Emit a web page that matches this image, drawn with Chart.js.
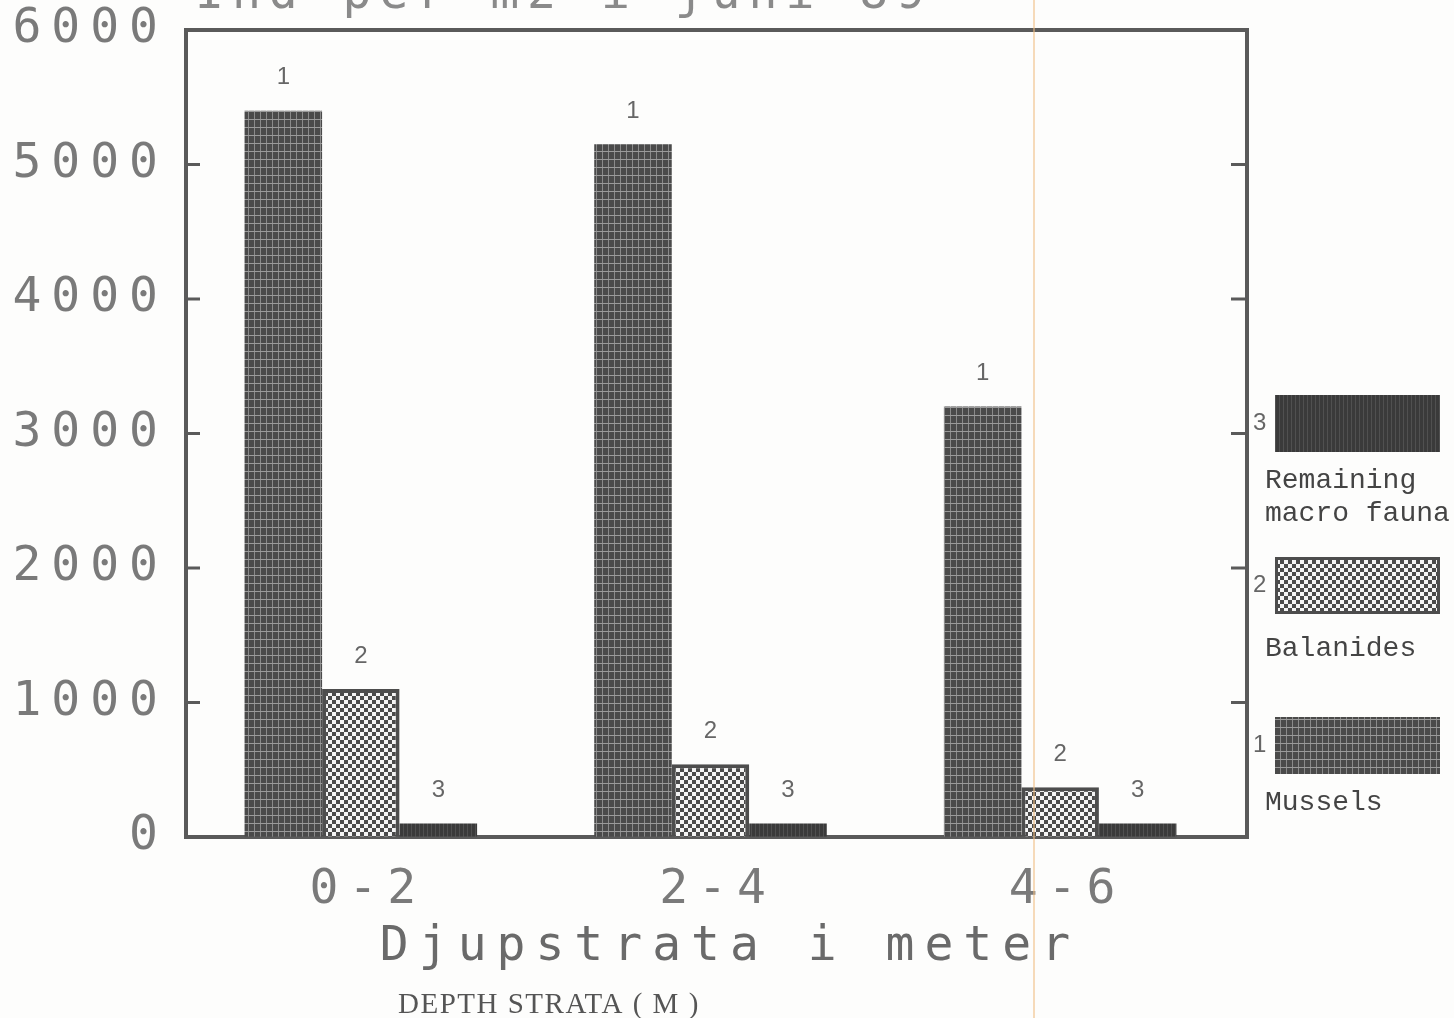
<!DOCTYPE html>
<html>
<head>
<meta charset="utf-8">
<title>Djupstrata i meter</title>
<script src="https://cdn.jsdelivr.net/npm/chart.js@4.4.1/dist/chart.umd.min.js"></script>
<style>
  html, body { margin: 0; padding: 0; background: #fdfdfc; }
  #wrap { width: 1454px; height: 1018px; }
</style>
</head>
<body>
<div id="wrap"><canvas id="chart" width="1454" height="1018"></canvas></div>
<script>
// Individuals per depth stratum

const depthStrata = ["0-2", "2-4", "4-6"];
const mussels = [5400, 5150, 3200];
const balanides = [1100, 540, 370];
const remaining = [100, 100, 100];
const seriesNames = ["Mussels", "Balanides", "Remaining macro fauna"];
const seriesNumbers = ["1", "2", "3"];
const yTicks = [0, 1000, 2000, 3000, 4000, 5000, 6000];

const BIG_FONT = "DejaVu Sans Mono";
const INK = "#5a5a5a";
const FRAME_GAP = 12; // printed frame runs a little past the last group

// dot matrix style fills
function makePattern(kind) {
  const c = document.createElement("canvas");
  const g = c.getContext("2d");
  if (kind === "grid") {
    c.width = 6; c.height = 8;
    g.fillStyle = "#4a4a4a";
    g.fillRect(0, 0, 6, 8);
    g.fillStyle = "#8a8a8a";
    g.fillRect(2, 0, 1, 8);
    g.fillStyle = "#9a9a9a";
    g.fillRect(0, 7, 6, 1);
  } else if (kind === "checker") {
    c.width = 8; c.height = 8;
    g.fillStyle = "#f4f4f4";
    g.fillRect(0, 0, 8, 8);
    g.fillStyle = "#4a4a4a";
    g.fillRect(0, 0, 4, 4);
    g.fillRect(4, 4, 4, 4);
  } else {
    c.width = 4; c.height = 4;
    g.fillStyle = "#3a3a3a";
    g.fillRect(0, 0, 4, 4);
    g.fillStyle = "#505050";
    g.fillRect(3, 0, 1, 4);
  }
  return g.createPattern(c, "repeat");
}

const fills = [makePattern("grid"), makePattern("checker"), makePattern("solid")];

const paperPlugin = {
  id: "paper",
  beforeDraw(chart) {
    const ctx = chart.ctx;
    ctx.save();
    ctx.fillStyle = "#fdfdfc";
    ctx.fillRect(0, 0, chart.width, chart.height);
    ctx.restore();
    // wide dot-matrix lettering for axes
    ctx.letterSpacing = "10px";
  },
  beforeDatasetsDraw(chart) {
    const ctx = chart.ctx;
    const a = chart.chartArea;
    const y = chart.scales.y;
    const fr = a.right + FRAME_GAP;
    ctx.letterSpacing = "0px";
    ctx.save();
    // top, right and rest of bottom frame lines
    ctx.strokeStyle = INK;
    ctx.lineWidth = 4;
    ctx.beginPath();
    ctx.moveTo(a.left, a.top);
    ctx.lineTo(fr, a.top);
    ctx.lineTo(fr, a.bottom);
    ctx.lineTo(a.right - 2, a.bottom);
    ctx.stroke();
    // inward tick marks on both sides
    ctx.lineWidth = 3;
    yTicks.slice(1, -1).forEach((v) => {
      const py = y.getPixelForValue(v);
      ctx.beginPath();
      ctx.moveTo(a.left, py);
      ctx.lineTo(a.left + 14, py);
      ctx.moveTo(fr, py);
      ctx.lineTo(fr - 16, py);
      ctx.stroke();
    });
    ctx.restore();
  },
  afterDatasetsDraw(chart) {
    const ctx = chart.ctx;
    ctx.save();
    ctx.letterSpacing = "0px";
    ctx.font = "24px 'Liberation Sans'";
    ctx.fillStyle = "#666";
    ctx.textAlign = "center";
    ctx.textBaseline = "bottom";
    chart.data.datasets.forEach((ds, i) => {
      const meta = chart.getDatasetMeta(i);
      meta.data.forEach((bar) => {
        ctx.fillText(seriesNumbers[i], bar.x, bar.y - 21);
      });
    });
    ctx.restore();
  },
  afterDraw(chart) {
    const ctx = chart.ctx;
    const fr = chart.chartArea.right + FRAME_GAP;
    ctx.save();
    ctx.letterSpacing = "0px";

    // legend on the right, top to bottom: 3, 2, 1
    const boxX = fr + 28;
    const boxW = 165;
    const boxH = 57;
    const entries = [
      { i: 2, top: 395, base: 488, lines: ["Remaining", "macro fauna"] },
      { i: 1, top: 557, base: 656, lines: ["Balanides"] },
      { i: 0, top: 717, base: 810, lines: ["Mussels"] }
    ];
    entries.forEach((e) => {
      ctx.fillStyle = fills[e.i];
      ctx.fillRect(boxX, e.top, boxW, boxH);
      if (e.i === 1) {
        ctx.strokeStyle = "#4d4d4d";
        ctx.lineWidth = 3;
        ctx.strokeRect(boxX + 1.5, e.top + 1.5, boxW - 3, boxH - 3);
      }
      ctx.fillStyle = "#666";
      ctx.font = "24px 'Liberation Sans'";
      ctx.textAlign = "left";
      ctx.textBaseline = "middle";
      ctx.fillText(seriesNumbers[e.i], fr + 6, e.top + boxH / 2);
      ctx.fillStyle = "#444";
      ctx.font = "28px 'Liberation Mono'";
      ctx.textBaseline = "alphabetic";
      e.lines.forEach((t, k) => {
        ctx.fillText(t, fr + 18, e.base + k * 33);
      });
    });

    // small subtitle under the axis title
    ctx.fillStyle = "#555";
    ctx.font = "29px 'Liberation Serif'";
    ctx.letterSpacing = "1.5px";
    ctx.textAlign = "left";
    ctx.textBaseline = "alphabetic";
    ctx.fillText("DEPTH STRATA ( M )", 398, 1013);

    // title, cut off by the top edge of the scan
    ctx.fillStyle = "#8a8a8a";
    ctx.font = "48px " + BIG_FONT;
    ctx.letterSpacing = "8px";
    ctx.fillText("Ind per m2 i juni 89", 195, 8);

    // fold line on the paper
    ctx.letterSpacing = "0px";
    ctx.strokeStyle = "rgba(240, 190, 130, 0.55)";
    ctx.lineWidth = 2;
    ctx.beginPath();
    ctx.moveTo(1034, 0);
    ctx.lineTo(1034, chart.height);
    ctx.stroke();
    ctx.restore();
  }
};

new Chart(document.getElementById("chart"), {
  type: "bar",
  data: {
    labels: depthStrata,
    datasets: [
      {
        label: seriesNames[0],
        data: mussels,
        backgroundColor: fills[0],
        borderWidth: 0
      },
      {
        label: seriesNames[1],
        data: balanides,
        backgroundColor: fills[1],
        borderColor: "#4d4d4d",
        borderWidth: 4
      },
      {
        label: seriesNames[2],
        data: remaining,
        backgroundColor: fills[2],
        borderWidth: 0
      }
    ]
  },
  options: {
    responsive: false,
    animation: false,
    layout: { padding: { left: 0, top: 30, right: 207 + FRAME_GAP, bottom: 42 } },
    plugins: {
      legend: { display: false },
      title: { display: false },
      tooltip: { enabled: false }
    },
    datasets: {
      bar: { categoryPercentage: 0.665, barPercentage: 1.0 }
    },
    scales: {
      x: {
        grid: { display: true, drawOnChartArea: false, drawTicks: false },
        border: { display: true, color: INK, width: 4 },
        ticks: {
          color: "#7a7a7a",
          font: { family: BIG_FONT, size: 48 },
          padding: 25,
          labelOffset: 7
        },
        title: {
          display: true,
          text: " Djupstrata i meter",
          color: "#6a6a6a",
          font: { family: BIG_FONT, size: 48 },
          padding: { top: 4, bottom: 0 }
        },
        afterFit(scale) {
          scale.height = 139;
          scale.paddingLeft = 0;
          scale.paddingRight = 0;
        }
      },
      y: {
        min: 0,
        max: 6000,
        grid: { display: true, drawOnChartArea: false, drawTicks: false },
        border: { display: true, color: INK, width: 4 },
        ticks: {
          stepSize: 1000,
          color: "#7a7a7a",
          font: { family: BIG_FONT, size: 48 },
          padding: 18,
          callback: (v) => String(v)
        },
        afterFit(scale) {
          scale.width = 186;
          scale.paddingTop = 0;
          scale.paddingBottom = 0;
        }
      }
    }
  },
  plugins: [paperPlugin]
});
</script>
</body>
</html>
